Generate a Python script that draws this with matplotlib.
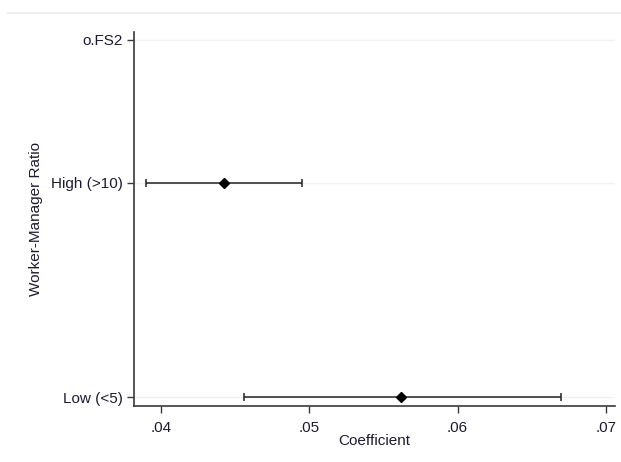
import matplotlib.pyplot as plt
import matplotlib.lines as mlines

plt.rcParams['font.family'] = ['Liberation Sans', 'DejaVu Sans']

# coefficient estimates with 95% confidence bounds
labels = ['o.FS2', 'High (>10)', 'Low (<5)']
ypos = [5, 3, 0]
coef_labels = ['High (>10)', 'Low (<5)']
coef = [0.04425, 0.0562]
ci_low = [0.03900, 0.0456]
ci_high = [0.04950, 0.0670]
coef_y = [3, 0]

fig = plt.figure(figsize=(6.21, 4.62), dpi=100)
ax = fig.add_axes([0.2158, 0.1212, 0.7745, 0.8095])

# faint rule along the top of the plot region
fig.add_artist(mlines.Line2D([8 / 621, 1.0], [1 - 13 / 462] * 2, color='#e8ecec', lw=1.2))

for y in ypos:
    ax.axhline(y, color='#eef2f2', lw=1, zorder=0)

err = [[c - lo for c, lo in zip(coef, ci_low)], [hi - c for c, hi in zip(coef, ci_high)]]
ax.errorbar(coef, coef_y, xerr=err, fmt='D', color='black', ms=5,
            ecolor='#222222', elinewidth=1.1, capsize=3, capthick=1.1, zorder=3)

ax.set_xlim(0.03818, 0.07061)
ax.set_ylim(-0.126, 5.11)
ax.set_xticks([0.04, 0.05, 0.06, 0.07])
ax.set_xticklabels(['.04', '.05', '.06', '.07'])
ax.set_yticks(ypos)
ax.set_yticklabels(labels)

for side in ['top', 'right']:
    ax.spines[side].set_visible(False)
for side in ['left', 'bottom']:
    ax.spines[side].set_color('#3a3a3a')
    ax.spines[side].set_linewidth(1.2)

ax.tick_params(axis='both', colors='#3a3a3a', labelcolor='#1f1a33', labelsize=11,
               length=5, width=1, direction='out')
ax.tick_params(axis='x', pad=6)
ax.tick_params(axis='y', pad=3)

ax.set_xlabel('Coefficient', fontsize=11, color='#1f1a33', labelpad=-1)
ax.set_ylabel('Worker-Manager Ratio', fontsize=11, color='#1f1a33')
ax.yaxis.set_label_coords((43 - 134) / 481, 0.5)

fig.savefig('out.png', dpi=100, facecolor='white')
